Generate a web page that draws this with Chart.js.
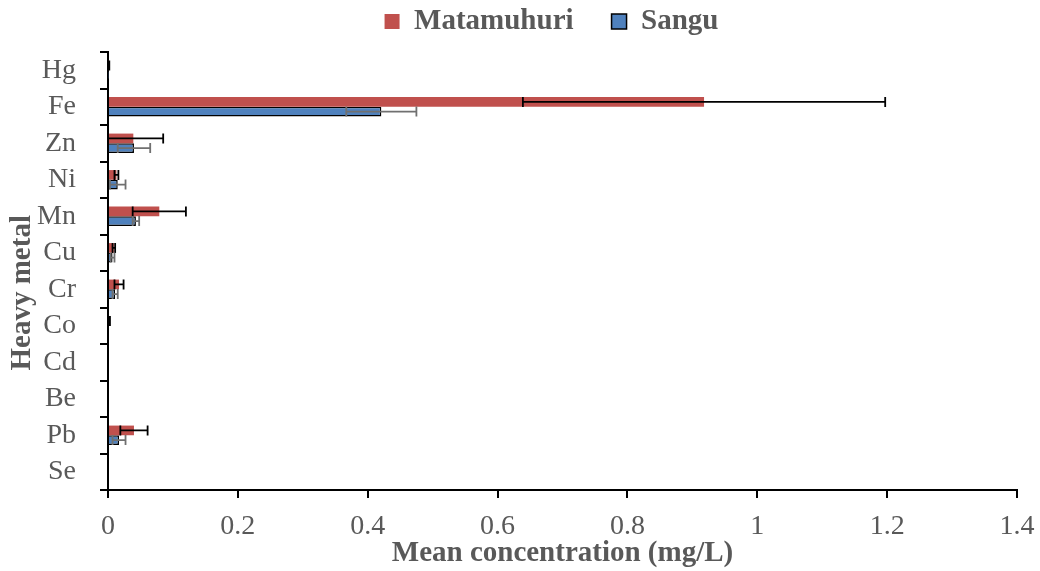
<!DOCTYPE html>
<html>
<head>
<meta charset="utf-8">
<style>
	html, body { margin: 0; padding: 0; background: #fff; overflow: hidden; }
</style>
<script src="https://cdn.jsdelivr.net/npm/chart.js"></script>
</head>
<body>
<canvas id="myChart" width="1040" height="571"></canvas>
<script>

	// Categories, top to bottom
	var metals = ["Hg", "Fe", "Zn", "Ni", "Mn", "Cu", "Cr", "Co", "Cd", "Be", "Pb", "Se"];

	// Mean concentrations (mg/L)
	var matamuhuri = [0.001, 0.918, 0.039, 0.013, 0.079, 0.009, 0.017, 0.002, 0, 0, 0.040, 0];
	var sangu      = [0.0005, 0.421, 0.040, 0.015, 0.043, 0.007, 0.011, 0, 0, 0, 0.017, 0];

	// Standard deviations (error bars)
	var matamuhuriErr = [0.001, 0.279, 0.046, 0.003, 0.041, 0.002, 0.007, 0.001, 0, 0, 0.021, 0];
	var sanguErr      = [0, 0.054, 0.025, 0.012, 0.005, 0.003, 0.004, 0, 0, 0, 0.010, 0];

	var xTicks = [0, 0.2, 0.4, 0.6, 0.8, 1, 1.2, 1.4];

	var serif = "'Liberation Serif', 'Times New Roman', serif";
	var grey = '#595959';

	// Draws error bars with the chart's own scales
	var errorBars = {
		id: 'errorBars',
		afterDatasetsDraw: function (chart) {
			var ctx = chart.ctx;
			var xs = chart.scales.x;
			var area = chart.chartArea;
			chart.data.datasets.forEach(function (ds, di) {
				var meta = chart.getDatasetMeta(di);
				ctx.save();
				ctx.strokeStyle = ds.errColor;
				ctx.lineWidth = 1.8;
				meta.data.forEach(function (bar, i) {
					var e = ds.errors[i];
					if (!e) return;
					var v = ds.data[i];
					var x1 = Math.max(xs.getPixelForValue(v - e), area.left);
					var x2 = xs.getPixelForValue(v + e);
					var y = bar.y;
					ctx.beginPath();
					ctx.moveTo(x1, y); ctx.lineTo(x2, y);
					if (v - e >= 0) { ctx.moveTo(x1, y - 5); ctx.lineTo(x1, y + 5); }
					ctx.moveTo(x2, y - 5); ctx.lineTo(x2, y + 5);
					ctx.stroke();
				});
				ctx.restore();
			});
		}
	};

	// Legend: fixed height, then nudged up and right to sit where the reference has it
	var legendPlace = {
		id: 'legendPlace',
		beforeInit: function (chart) {
			var fit = chart.legend.fit;
			chart.legend.fit = function () {
				fit.bind(chart.legend)();
				this.height = 52;
			};
		},
		afterLayout: function (chart) {
			var lg = chart.legend;
			lg.top = -31;
			lg.left += 43;
			lg.right += 43;
		}
	};

	var config = {
		type: 'bar',
		data: {
			labels: metals,
			datasets: [{
				label: 'Matamuhuri',
				data: matamuhuri,
				errors: matamuhuriErr,
				errColor: '#000000',
				backgroundColor: '#C0504D',
				borderWidth: 0
			}, {
				label: 'Sangu',
				data: sangu,
				errors: sanguErr,
				errColor: '#707070',
				backgroundColor: '#4F81BD',
				borderColor: '#000000',
				borderWidth: 1.5
			}]
		},
		options: {
			indexAxis: 'y',
			responsive: false,
			animation: false,
			layout: { padding: { left: 0, right: 23, top: 0, bottom: 0 } },
			datasets: { bar: { barPercentage: 1, categoryPercentage: 0.53 } },
			scales: {
				x: {
					min: 0,
					max: 1.4,
					afterFit: function (s) { s.height = 81; s.paddingLeft = 0; s.paddingRight = 0; },
					afterBuildTicks: function (s) {
						s.ticks = xTicks.map(function (v) { return { value: v }; });
					},
					border: { color: '#000', width: 2 },
					grid: { drawOnChartArea: false, color: '#000', lineWidth: 2, tickLength: 8 },
					ticks: {
						color: grey, padding: 12, maxRotation: 0,
						font: { family: serif, size: 28 },
						callback: function (v) { return String(v); }
					},
					title: {
						display: true,
						text: 'Mean concentration (mg/L)',
						color: grey,
						padding: { top: 0, bottom: 0 },
						font: { family: serif, size: 29, weight: 'bold' }
					}
				},
				y: {
					afterFit: function (s) { s.width = 108; },
					border: { color: '#000', width: 2 },
					grid: { drawOnChartArea: false, color: '#000', lineWidth: 2, tickLength: 8, offset: true },
					ticks: { color: grey, padding: 24, autoSkip: false, font: { family: serif, size: 28 } },
					title: {
						display: true,
						text: 'Heavy metal      ',
						color: grey,
						padding: { top: 5, bottom: 0 },
						font: { family: serif, size: 29, weight: 'bold' }
					}
				}
			},
			plugins: {
				legend: {
					position: 'top',
					labels: {
						color: grey,
						boxWidth: 15,
						boxHeight: 15,
						padding: 38,
						font: { family: serif, size: 29, weight: 'bold' }
					}
				},
				tooltip: { enabled: false }
			}
		},
		plugins: [errorBars, legendPlace]
	};

	new Chart(document.getElementById('myChart'), config);

</script>
</body>
</html>
